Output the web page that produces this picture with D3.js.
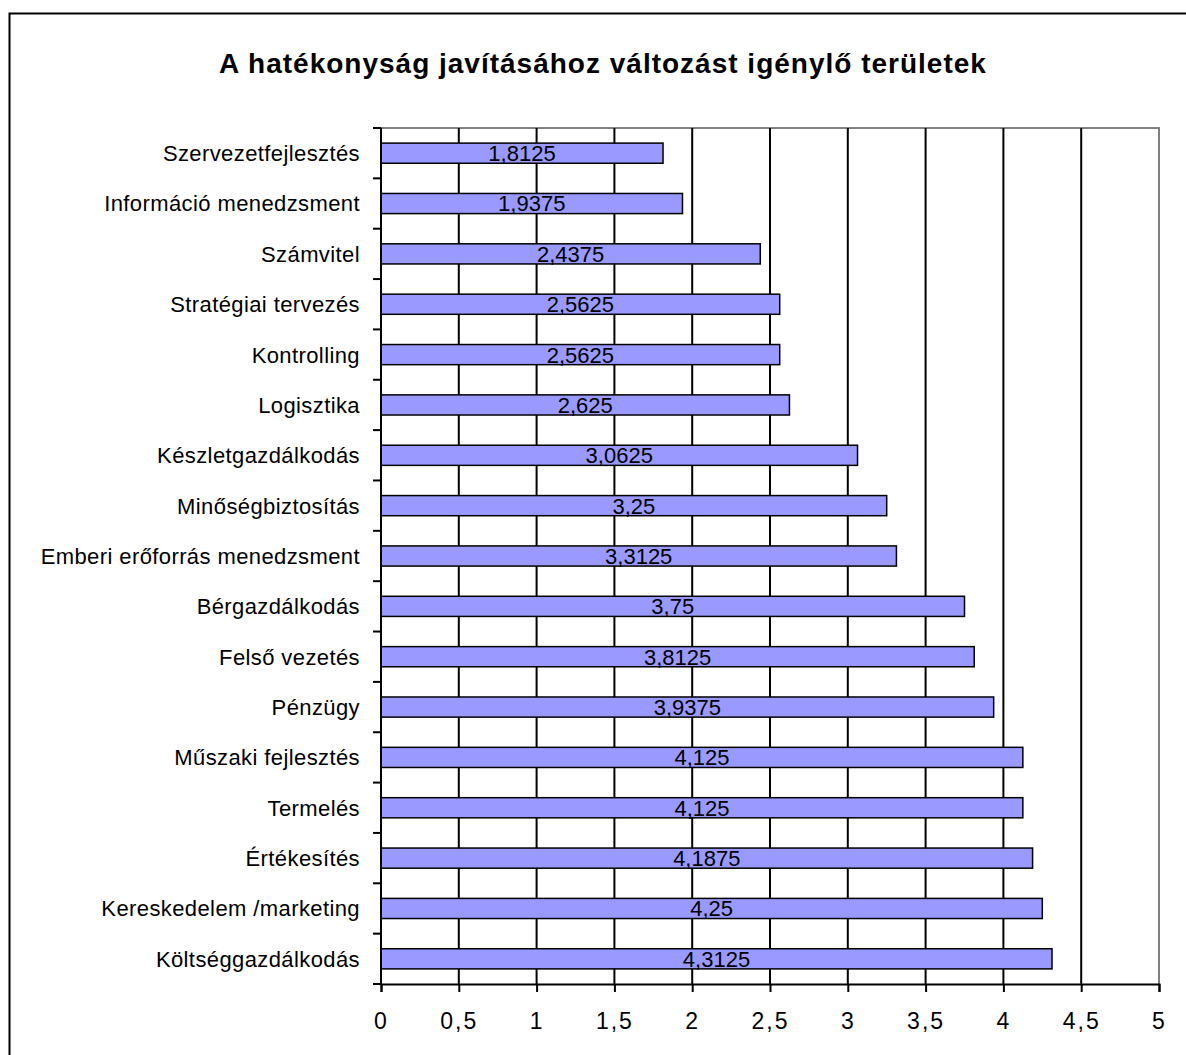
<html>
  <head>
    <meta charset="utf-8" />
    <title>A hatékonyság javításához változást igénylő területek</title>
    <script src="https://d3js.org/d3.v7.min.js"></script>
    <style type="text/css">
      body { margin: 0; background: white; }
      text { font-family: "Liberation Sans", Arial, sans-serif; fill: black; }
    </style>
  </head>
  <body>
    <div id="chart"></div>
    <script type="text/javascript">
      var categories = ["Szervezetfejlesztés", "Információ menedzsment", "Számvitel",
        "Stratégiai tervezés", "Kontrolling", "Logisztika", "Készletgazdálkodás",
        "Minőségbiztosítás", "Emberi erőforrás menedzsment", "Bérgazdálkodás",
        "Felső vezetés", "Pénzügy", "Műszaki fejlesztés", "Termelés", "Értékesítés",
        "Kereskedelem /marketing", "Költséggazdálkodás"];
      var values = [1.8125, 1.9375, 2.4375, 2.5625, 2.5625, 2.625, 3.0625, 3.25, 3.3125,
        3.75, 3.8125, 3.9375, 4.125, 4.125, 4.1875, 4.25, 4.3125];
      var xTicks = [0, 0.5, 1, 1.5, 2, 2.5, 3, 3.5, 4, 4.5, 5];
      var title = "A hatékonyság javításához változást igénylő területek";

      var width = 1186, height = 1055;
      var plotLeft = 381, plotRight = 1159, plotTop = 128, plotBottom = 984;
      var fmt = function(v) { return String(v).replace(".", ","); };

      var svg = d3.select("#chart").append("svg")
          .attr("width", width)
          .attr("height", height);

      // outer chart frame (runs off the right/bottom edge)
      svg.append("rect")
          .attr("x", 9.5).attr("y", 13.5)
          .attr("width", 1300).attr("height", 1200)
          .attr("fill", "white")
          .attr("stroke", "black")
          .attr("stroke-width", 2);

      svg.append("text")
          .attr("x", 603).attr("y", 73)
          .attr("text-anchor", "middle")
          .style("font-size", "28px")
          .style("font-weight", "bold")
          .style("letter-spacing", "1px")
          .text(title);

      var x = d3.scaleLinear().domain([0, 5]).range([plotLeft, plotRight]);
      var y = d3.scaleBand().domain(categories).range([plotTop, plotBottom]).paddingInner(0.6).paddingOuter(0.3);
      var yb = d3.scaleLinear().domain([0, categories.length]).range([plotTop, plotBottom]);

      // plot area border: gray top and right
      svg.append("path")
          .attr("d", "M" + plotLeft + "," + plotTop + "H" + plotRight + "V" + plotBottom)
          .attr("fill", "none")
          .attr("stroke", "#808080")
          .attr("stroke-width", 2);

      // vertical gridlines
      svg.selectAll("line.grid")
          .data(xTicks.filter(function(t) { return t > 0 && t < 5; }))
          .enter().append("line")
          .attr("class", "grid")
          .attr("x1", function(d) { return x(d); })
          .attr("x2", function(d) { return x(d); })
          .attr("y1", plotTop).attr("y2", plotBottom)
          .attr("stroke", "black")
          .attr("stroke-width", 2);

      // bars
      svg.selectAll("rect.bar")
          .data(values)
          .enter().append("rect")
          .attr("class", "bar")
          .attr("x", x(0))
          .attr("y", function(d, i) { return y(categories[i]); })
          .attr("width", function(d) { return x(d) - x(0); })
          .attr("height", y.bandwidth())
          .attr("fill", "#9999ff")
          .attr("stroke", "black")
          .attr("stroke-width", 1.5);

      // value labels, centred in bars
      svg.selectAll("text.val")
          .data(values)
          .enter().append("text")
          .attr("class", "val")
          .attr("x", function(d) { return (x(0) + x(d)) / 2; })
          .attr("y", function(d, i) { return y(categories[i]) + y.bandwidth() / 2; })
          .attr("dy", "0.36em")
          .attr("text-anchor", "middle")
          .style("font-size", "22px")
          .text(function(d) { return fmt(d); });

      // y axis
      var yAxis = svg.append("g").attr("transform", "translate(" + plotLeft + ",0)");
      yAxis.append("line")
          .attr("x1", 0).attr("x2", 0).attr("y1", plotTop).attr("y2", plotBottom)
          .attr("stroke", "black").attr("stroke-width", 2);
      yAxis.selectAll("line.tick")
          .data(d3.range(categories.length + 1))
          .enter().append("line")
          .attr("class", "tick")
          .attr("x1", -8).attr("x2", 0)
          .attr("y1", function(d) { return yb(d); })
          .attr("y2", function(d) { return yb(d); })
          .attr("stroke", "black").attr("stroke-width", 2);
      yAxis.selectAll("text")
          .data(categories)
          .enter().append("text")
          .attr("x", -21)
          .attr("y", function(d) { return y(d) + y.bandwidth() / 2; })
          .attr("dy", "0.36em")
          .attr("text-anchor", "end")
          .style("font-size", "22px")
          .style("letter-spacing", "0.4px")
          .text(function(d) { return d; });

      // x axis
      var xAxis = svg.append("g")
          .attr("transform", "translate(0," + plotBottom + ")")
          .call(d3.axisBottom(x).tickValues(xTicks).tickSize(8).tickPadding(21).tickFormat(fmt));
      xAxis.select(".domain").attr("stroke", "black").attr("stroke-width", 2);
      xAxis.selectAll(".tick line").attr("stroke", "black").attr("stroke-width", 2);
      xAxis.selectAll(".tick text")
          .style("font-size", "23px")
          .style("letter-spacing", "2px")
          .style("font-family", "'Liberation Sans', Arial, sans-serif");
    </script>
  </body>
</html>
